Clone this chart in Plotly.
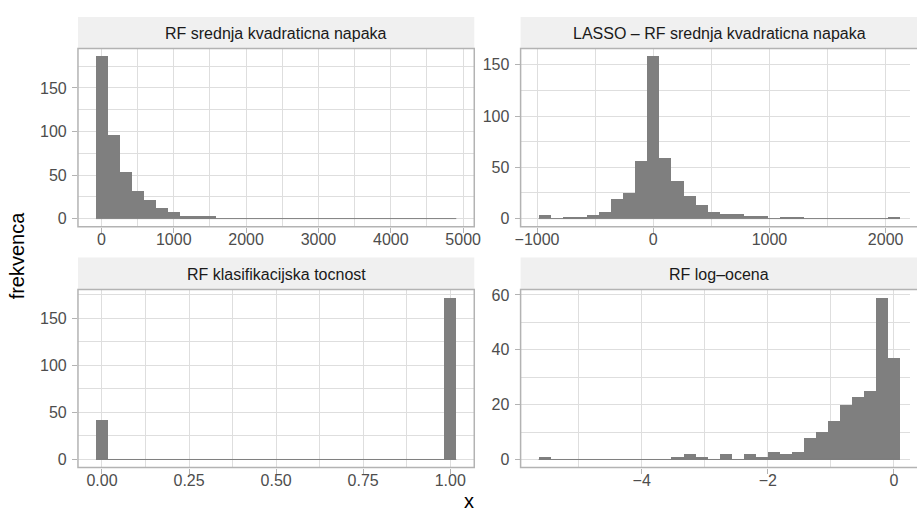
import numpy as np
import plotly.graph_objects as go

W, H = 917, 514

# ---------------- data (histogram counts, 30 bins each) ----------------
titles = ["RF srednja kvadraticna napaka",
          "LASSO \u2013 RF srednja kvadraticna napaka",
          "RF klasifikacijska tocnost",
          "RF log\u2013ocena"]

mse_bin_start, mse_bin_width = -75.0, 166.0
mse_counts = [186, 95, 53, 31, 21, 12, 7, 2, 2, 2,
              0, 0, 0, 0, 0, 0, 0, 0, 0, 0,
              0, 0, 0, 0, 0, 0, 0, 0, 0, 0]

diff_bin_start, diff_bin_width = -986.0, 103.6
diff_counts = [3, 0, 1, 1, 3, 6, 19, 25, 56, 158,
               59, 36, 22, 13, 6, 4, 4, 2, 2, 0,
               1, 1, 0, 0, 0, 0, 0, 0, 0, 1]

acc_bin_start, acc_bin_width = -0.5 / 29, 1 / 29
acc_counts = [42] + [0] * 28 + [172]

log_bin_start, log_bin_width = -5.6355, 0.191
log_counts = [1, 0, 0, 0, 0, 0, 0, 0, 0, 0,
              0, 1, 2, 1, 0, 2, 0, 2, 1, 3,
              2, 3, 8, 10, 14, 20, 23, 25, 59, 37]

x_major = [[0, 1000, 2000, 3000, 4000, 5000],
           [-1000, 0, 1000, 2000],
           [0, 0.25, 0.5, 0.75, 1.0],
           [-4, -2, 0]]
x_labels = [["0", "1000", "2000", "3000", "4000", "5000"],
            ["\u22121000", "0", "1000", "2000"],
            ["0.00", "0.25", "0.50", "0.75", "1.00"],
            ["\u22124", "\u22122", "0"]]
x_minor = [[500, 1500, 2500, 3500, 4500],
           [-500, 500, 1500],
           [0.125, 0.375, 0.625, 0.875],
           [-5, -3, -1]]
y_major = [[0, 50, 100, 150], [0, 50, 100, 150], [0, 50, 100, 150], [0, 20, 40, 60]]
y_minor = [[25, 75, 125, 175], [25, 75, 125], [25, 75, 125, 175], [10, 30, 50]]

panels = [(mse_bin_start, mse_bin_width, mse_counts),
          (diff_bin_start, diff_bin_width, diff_counts),
          (acc_bin_start, acc_bin_width, acc_counts),
          (log_bin_start, log_bin_width, log_counts)]

# ---------------- layout geometry (pixels) ----------------
rects = [(73, 475, 45.7, 225.0),
         (522, 925, 45.7, 225.0),
         (73, 475, 288.3, 467.3),
         (522, 925, 288.3, 467.3)]
strip_tops = [14.0, 14.0, 256.0, 256.0]

BAR = "#7F7F7F"
GRID = "#DEDEDE"
BORDER = "#B3B3B3"
TICKTXT = "#4D4D4D"
FONT = "Liberation Sans, Arial, Helvetica, sans-serif"

fig = go.Figure()
shapes = []
annotations = []
layout_axes = {}

for i, (start, w, counts) in enumerate(panels):
    k = i + 1
    xs = "" if k == 1 else str(k)
    counts = np.array(counts, dtype=float)
    n = len(counts)
    centers = start + w * (np.arange(n) + 0.5)
    end = start + w * n
    span = end - start
    lo, hi = start - 0.05 * span, end + 0.05 * span
    ymax = counts.max()
    ylo, yhi = -0.05 * ymax, 1.05 * ymax

    x0, x1, y0, y1 = rects[i]
    vis_x1 = min(x1, W)
    vis_hi = lo + (vis_x1 - x0) / (x1 - x0) * (hi - lo)

    fig.add_trace(go.Scatter(x=[start, end], y=[0, 0], mode="lines",
                             line=dict(color=BAR, width=1),
                             xaxis="x" + xs, yaxis="y" + xs,
                             hoverinfo="skip", showlegend=False))
    fig.add_trace(go.Bar(x=centers, y=counts, width=w,
                         marker=dict(color=BAR, line=dict(width=0)),
                         xaxis="x" + xs, yaxis="y" + xs,
                         showlegend=False, hoverinfo="skip"))

    common = dict(showgrid=True, gridcolor=GRID, gridwidth=1.2,
                  zeroline=False, showline=False,
                  ticks="outside", ticklen=5, tickwidth=1.2, tickcolor=BORDER,
                  tickfont=dict(size=16, color=TICKTXT, family=FONT))
    layout_axes["xaxis" + xs] = dict(
        common, domain=[x0 / W, vis_x1 / W], range=[lo, vis_hi],
        anchor="y" + xs, tickmode="array", tickvals=x_major[i], ticktext=x_labels[i],
        ticklabelstandoff=-7,
        minor=dict(tickmode="array", tickvals=x_minor[i], showgrid=True,
                   gridcolor=GRID, gridwidth=0.6, ticks=""))
    layout_axes["yaxis" + xs] = dict(
        common, domain=[1 - y1 / H, 1 - y0 / H], range=[ylo, yhi],
        anchor="x" + xs, tickmode="array", tickvals=y_major[i],
        ticktext=[str(v) for v in y_major[i]],
        ticklabelstandoff=2,
        minor=dict(tickmode="array", tickvals=y_minor[i], showgrid=True,
                   gridcolor=GRID, gridwidth=0.6, ticks=""))

    # strip
    st = strip_tops[i]
    shapes.append(dict(type="rect", xref="paper", yref="paper",
                       x0=x0 / W, x1=x1 / W, y0=1 - y0 / H, y1=1 - st / H,
                       fillcolor="#F0F0F0", line=dict(width=0), layer="below"))
    annotations.append(dict(xref="paper", yref="paper",
                            x=((x0 + x1) / 2) / W, y=1 - ((st + y0) / 2 + 1) / H,
                            text=titles[i], showarrow=False,
                            xanchor="center", yanchor="middle",
                            font=dict(size=16, color="#1A1A1A", family=FONT)))
    # panel border
    shapes.append(dict(type="rect", xref="paper", yref="paper",
                       x0=x0 / W, x1=x1 / W, y0=1 - y1 / H, y1=1 - y0 / H,
                       fillcolor="rgba(0,0,0,0)", line=dict(color=BORDER, width=1.5),
                       layer="above"))

annotations.append(dict(xref="paper", yref="paper", x=470 / W, y=0,
                        text="x", showarrow=False, xanchor="center", yanchor="bottom",
                        font=dict(size=20, color="black", family=FONT)))
annotations.append(dict(xref="paper", yref="paper", x=11 / W, y=1 - 254 / H,
                        text="frekvenca", showarrow=False, textangle=-90,
                        xanchor="center", yanchor="middle",
                        font=dict(size=20, color="black", family=FONT)))

fig.update_layout(
    width=W, height=H, margin=dict(l=0, r=0, t=0, b=0),
    paper_bgcolor="white", plot_bgcolor="white",
    font=dict(family=FONT), bargap=0, showlegend=False,
    shapes=shapes, annotations=annotations, hovermode=False,
    **layout_axes)

fig.write_html("out.html", config=dict(displayModeBar=False))
